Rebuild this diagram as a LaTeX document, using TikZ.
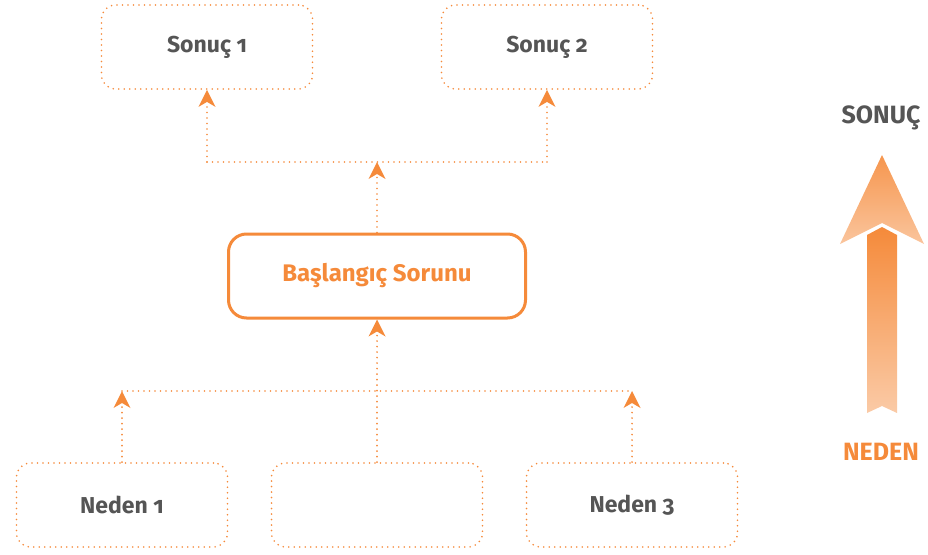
\documentclass[tikz,border=0pt]{standalone}
\usepackage{fontspec}
\setmainfont{Fira Sans}[Numbers=OldStyle]
\usetikzlibrary{arrows.meta,positioning}
\definecolor{turuncu}{HTML}{F58A3A}
\definecolor{koyugri}{HTML}{555555}
\begin{document}
\begin{tikzpicture}[x=1pt,y=-1pt,
  kutu/.style={draw=turuncu,line width=1.8pt,dash pattern=on 0pt off 5.5pt,line cap=round,
    rounded corners=14pt,minimum width=211pt,minimum height=84pt,
    font=\bfseries\fontsize{23}{26}\selectfont,text=koyugri},
  anakutu/.style={draw=turuncu,line width=3pt,rounded corners=18pt,
    minimum width=297pt,minimum height=84pt,
    font=\bfseries\fontsize{24}{27}\selectfont,text=turuncu},
  baglanti/.style={turuncu,line width=1.8pt,dash pattern=on 0pt off 5.5pt,line cap=round},
  ok/.style={baglanti,-{Stealth[length=17pt,width=17pt,inset=5pt,fill=turuncu,line width=0pt]}}]
\useasboundingbox (0,0) rectangle (928,554);
%kutular
\node[kutu] (sonuc1) at (207,47) {Sonuç 1};
\node[kutu] (sonuc2) at (547,47) {Sonuç 2};
\node[anakutu] (sorun) at (377,276) {Başlangıç Sorunu};
\node[kutu] (neden1) at (122,505) {Neden 1};
\node[kutu] (neden2) at (377,505) {};
\node[kutu] (neden3) at (632,505) {Neden 3};
%baglantilar
\coordinate (ust) at (377,162);
\coordinate (alt) at (377,391);
\draw[ok] (sorun.north) -- (ust);
\draw[baglanti] (sonuc1.south |- ust) -- (sonuc2.south |- ust);
\draw[ok] (sonuc1.south |- ust) -- (sonuc1.south);
\draw[ok] (sonuc2.south |- ust) -- (sonuc2.south);
\draw[ok] (neden2.north) -- (sorun.south);
\draw[baglanti] (neden1.north |- alt) -- (neden3.north |- alt);
\draw[ok] (neden1.north) -- (neden1.north |- alt);
\draw[ok] (neden3.north) -- (neden3.north |- alt);
%sag ok
\node[font=\bfseries\fontsize{25}{28}\selectfont,text=koyugri] (sonuc) at (881,118) {SONUÇ};
\node[font=\bfseries\fontsize{25}{28}\selectfont,text=turuncu] (neden) at (881,452) {NEDEN};
\shade[top color=turuncu!90!white,bottom color=turuncu!50!white]
  (882,155) -- (924,244) -- (882,223) -- (840,244) -- cycle;
\shade[top color=turuncu,bottom color=turuncu!45!white]
  (867,235) -- (882,227) -- (897,235) -- (897,413) -- (882,406) -- (867,413) -- cycle;
\end{tikzpicture}
\end{document}
